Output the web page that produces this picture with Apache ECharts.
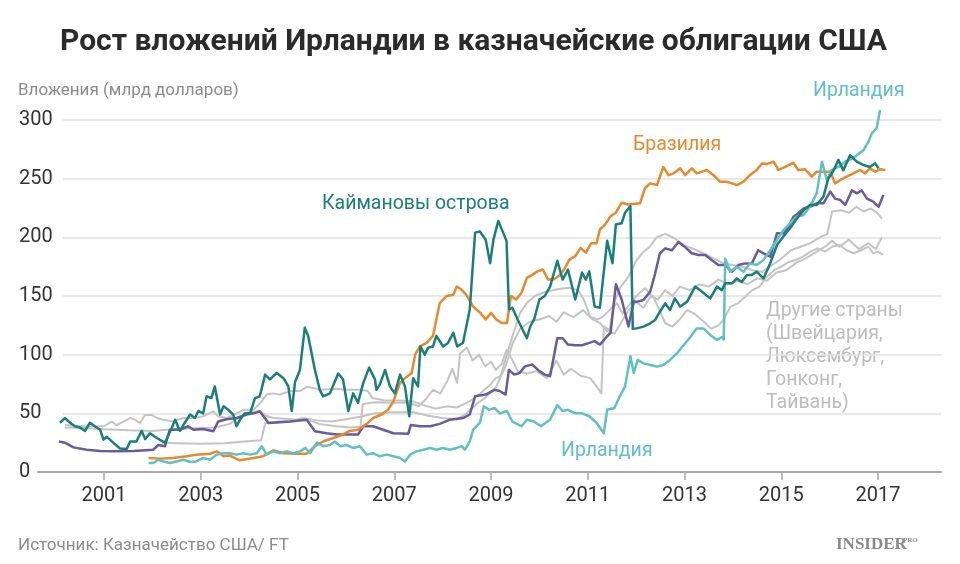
<!DOCTYPE html>
<html><head><meta charset="utf-8">
<script src="https://cdn.jsdelivr.net/npm/echarts@6/dist/echarts.min.js"></script>
<style>html,body{margin:0;padding:0;background:#fff}#c{width:960px;height:564px}</style>
</head><body><div id="c"></div>
<script>
const yTicks = [0, 50, 100, 150, 200, 250, 300];
const xTicks = [2001, 2003, 2005, 2007, 2009, 2011, 2013, 2015, 2017];

const cayman = [[2000.09,41.8],[2000.19,46],[2000.30,42],[2000.40,39],[2000.50,38],[2000.61,35],[2000.71,42],[2000.81,39],[2000.92,36],[2000.99,27.6],[2001.06,30],[2001.19,25],[2001.33,20],[2001.47,19.6],[2001.54,26],[2001.67,26],[2001.78,35],[2001.85,28],[2001.95,33],[2002.09,29],[2002.26,25],[2002.40,37.5],[2002.47,44.6],[2002.57,35],[2002.67,42],[2002.78,49],[2002.88,46],[2002.95,52],[2003.05,50],[2003.12,64.5],[2003.22,63],[2003.29,73],[2003.40,49],[2003.47,56],[2003.57,53],[2003.67,49],[2003.74,39],[2003.81,44.6],[2003.91,50],[2004.02,50],[2004.12,63],[2004.22,64.5],[2004.33,83],[2004.43,79],[2004.57,84.4],[2004.71,80],[2004.81,73],[2004.88,52],[2004.95,77],[2005.05,87],[2005.15,123],[2005.22,116],[2005.36,87],[2005.46,70],[2005.53,64.5],[2005.67,67],[2005.77,77],[2005.84,84],[2005.94,79],[2006.05,52],[2006.15,67],[2006.25,59],[2006.36,76],[2006.48,89],[2006.60,79],[2006.63,70],[2006.70,74.5],[2006.81,87],[2006.91,73],[2007.01,67],[2007.12,83],[2007.22,73],[2007.31,47.5],[2007.39,80],[2007.49,73],[2007.54,107],[2007.63,100],[2007.70,106],[2007.80,107],[2007.87,116],[2008.01,107],[2008.11,110],[2008.22,118.6],[2008.30,107],[2008.42,110],[2008.56,138.5],[2008.67,204],[2008.77,205],[2008.89,198],[2008.98,178],[2009.05,198],[2009.15,214],[2009.22,207],[2009.32,197],[2009.37,138.5],[2009.44,140],[2009.55,130],[2009.74,114],[2009.81,124],[2009.89,130],[2010.00,147],[2010.11,150],[2010.22,158],[2010.37,180],[2010.48,164],[2010.59,172.6],[2010.74,147],[2010.88,170],[2010.96,164],[2011.03,171],[2011.14,141],[2011.25,140],[2011.40,197],[2011.51,178],[2011.58,211],[2011.70,212],[2011.77,221],[2011.88,226.6],[2011.93,122],[2012.01,122.4],[2012.15,123.9],[2012.29,126.7],[2012.39,129.5],[2012.49,136.6],[2012.60,143.7],[2012.70,138],[2012.80,148],[2012.91,141],[2013.05,145],[2013.22,158],[2013.36,153.7],[2013.53,148],[2013.67,158],[2013.77,155],[2013.84,160.8],[2013.98,160.8],[2014.08,165],[2014.18,162],[2014.29,168],[2014.39,168],[2014.49,170.7],[2014.63,165],[2014.77,177.8],[2014.91,193.5],[2015.04,200.6],[2015.18,207.7],[2015.32,216],[2015.46,223],[2015.59,227.6],[2015.73,227.6],[2015.87,234.7],[2015.97,250],[2016.08,257],[2016.18,266],[2016.28,257],[2016.42,270],[2016.56,264.5],[2016.70,261.6],[2016.83,260],[2016.94,263],[2017.01,258.8]];

const brazil = [[2001.92,12],[2002.16,11.4],[2002.43,12],[2002.71,13.4],[2002.91,14.8],[2003.19,15.6],[2003.33,17.6],[2003.47,13.4],[2003.60,14],[2003.81,10],[2004.09,12],[2004.29,13.4],[2004.50,18.5],[2004.71,16],[2004.91,15.6],[2005.19,15.6],[2005.36,22],[2005.53,26],[2005.74,29],[2005.94,32],[2006.08,35],[2006.25,36],[2006.36,39],[2006.46,42],[2006.56,46],[2006.74,49],[2006.87,53],[2006.98,60],[2007.12,76],[2007.22,80],[2007.36,84.4],[2007.43,100],[2007.53,107],[2007.67,110],[2007.80,116],[2007.94,144],[2008.08,150],[2008.22,151],[2008.29,158],[2008.39,155.5],[2008.49,151],[2008.63,141],[2008.78,135.6],[2008.89,130],[2009.0,135.6],[2009.11,130],[2009.22,127],[2009.33,127],[2009.41,150],[2009.52,147],[2009.63,152.7],[2009.74,165.5],[2009.85,168],[2009.96,171],[2010.07,172.6],[2010.18,164],[2010.29,164],[2010.40,167],[2010.51,172.6],[2010.62,181],[2010.74,184],[2010.85,191],[2010.96,187],[2011.07,195],[2011.18,195],[2011.25,206.7],[2011.36,211],[2011.47,218],[2011.58,221],[2011.70,229.5],[2011.84,228],[2012.08,229],[2012.18,241.8],[2012.29,246],[2012.43,244.6],[2012.56,260],[2012.67,253],[2012.77,254.5],[2012.91,258.8],[2013.01,253],[2013.15,258.8],[2013.25,254.5],[2013.36,256],[2013.46,257.4],[2013.60,253],[2013.73,247.4],[2013.87,247.4],[2013.98,246],[2014.08,244.6],[2014.22,247.4],[2014.35,253],[2014.49,257.4],[2014.60,263],[2014.70,262.5],[2014.84,264.5],[2014.94,257.4],[2015.08,260],[2015.25,263.6],[2015.35,257.4],[2015.49,258],[2015.63,251.7],[2015.73,256],[2015.87,256],[2016.01,256],[2016.11,246],[2016.22,248.9],[2016.35,251.7],[2016.49,254.5],[2016.63,257.4],[2016.73,254.5],[2016.83,258.8],[2016.94,256],[2017.04,258],[2017.15,257.4]];

const ireland = [[2001.92,7.7],[2002.02,7.7],[2002.12,10.5],[2002.23,9],[2002.36,7.7],[2002.50,9],[2002.64,10.5],[2002.78,8.5],[2002.91,9],[2003.05,12],[2003.19,10.5],[2003.33,14.8],[2003.47,16],[2003.60,16],[2003.74,14.8],[2003.88,16],[2004.02,14.8],[2004.16,16],[2004.26,22],[2004.36,14.8],[2004.50,17.6],[2004.64,16],[2004.78,17.6],[2004.91,16],[2005.05,17.6],[2005.16,20.5],[2005.26,16],[2005.40,25],[2005.53,22],[2005.67,23],[2005.77,26],[2005.88,22],[2006.01,23],[2006.15,20.5],[2006.29,22],[2006.43,14.8],[2006.56,16],[2006.70,13.4],[2006.84,14.8],[2006.98,13.4],[2007.12,12],[2007.22,9],[2007.33,14.8],[2007.46,17.6],[2007.60,19],[2007.74,20.5],[2007.87,19],[2008.01,20.5],[2008.15,19],[2008.29,20.5],[2008.39,22],[2008.46,19],[2008.56,26],[2008.63,36],[2008.77,42],[2008.85,56],[2008.96,53],[2009.07,54.6],[2009.18,50],[2009.33,52],[2009.44,43],[2009.63,39],[2009.74,44.6],[2009.89,43],[2010.03,39],[2010.22,44.6],[2010.37,57],[2010.48,52],[2010.59,53],[2010.74,50],[2010.88,50],[2011.03,47.5],[2011.18,42],[2011.33,33],[2011.40,53],[2011.55,54.6],[2011.66,64.5],[2011.77,73],[2011.88,98.7],[2011.95,84.4],[2012.03,95.5],[2012.15,92.6],[2012.29,91.2],[2012.43,89.8],[2012.56,91.2],[2012.70,95.5],[2012.84,101],[2012.98,108],[2013.12,115],[2013.25,122.4],[2013.39,122.4],[2013.53,116.8],[2013.67,112.5],[2013.77,115],[2013.81,113],[2013.84,182],[2013.94,170.7],[2014.08,175],[2014.22,170.7],[2014.35,177.8],[2014.49,176.4],[2014.63,180.7],[2014.73,186.4],[2014.91,197.7],[2015.04,206],[2015.18,212],[2015.32,217.6],[2015.46,219],[2015.59,226],[2015.73,237.5],[2015.84,264.5],[2015.94,248.9],[2016.04,257.4],[2016.18,260],[2016.32,264.5],[2016.46,267],[2016.56,270],[2016.70,274.4],[2016.80,281.5],[2016.87,288.6],[2016.97,293],[2017.04,308.5]];

const purple = [[2000.07,26],[2000.19,25],[2000.37,21],[2000.64,19],[2000.92,18],[2001.19,17.6],[2001.61,18],[2002.02,19],[2002.12,23],[2002.26,22],[2002.36,36],[2002.57,36],[2002.74,39],[2002.85,36],[2003.05,36.7],[2003.26,34.7],[2003.36,43],[2003.53,45],[2003.74,46],[2003.95,49],[2004.09,50],[2004.22,51.7],[2004.40,41.8],[2004.64,42.4],[2004.84,43],[2005.19,44.6],[2005.36,34.7],[2005.60,33],[2005.81,32],[2006.01,32],[2006.25,32],[2006.36,39],[2006.56,39],[2006.77,36],[2006.98,33],[2007.29,32.7],[2007.34,40],[2007.53,39],[2007.74,39],[2007.94,41],[2008.15,44.6],[2008.42,46],[2008.56,49],[2008.67,64.5],[2008.89,66],[2009.07,70],[2009.18,69],[2009.30,66],[2009.37,87],[2009.48,83],[2009.59,84.4],[2009.70,90],[2009.85,91.6],[2010.0,86],[2010.11,83],[2010.22,81.6],[2010.37,114],[2010.48,114],[2010.59,108.6],[2010.74,108],[2010.88,108],[2011.03,110],[2011.14,111.5],[2011.25,108.6],[2011.40,115.7],[2011.47,118.6],[2011.58,160],[2011.70,147],[2011.84,124],[2011.95,145.6],[2012.01,145],[2012.15,146.6],[2012.29,153.7],[2012.39,169],[2012.49,186.4],[2012.60,190.6],[2012.74,189],[2012.87,196],[2013.01,191.7],[2013.15,186.4],[2013.29,185],[2013.43,185],[2013.56,180.7],[2013.70,176.4],[2013.84,176.4],[2013.98,170.7],[2014.11,176.4],[2014.25,177.8],[2014.39,177.8],[2014.52,189],[2014.63,186.4],[2014.77,183.5],[2014.91,203.4],[2015.04,203.4],[2015.15,209],[2015.25,217.6],[2015.35,220.5],[2015.46,224.7],[2015.59,226],[2015.73,229],[2015.87,229],[2016.01,239],[2016.11,233],[2016.22,231.8],[2016.32,227.6],[2016.46,240],[2016.56,237.5],[2016.66,240],[2016.77,233],[2016.90,230.4],[2017.01,226],[2017.11,236]];

const gray1 = [[2000.19,40],[2000.6,39],[2001.0,39],[2001.16,43],[2001.26,40],[2001.4,43],[2001.54,46],[2001.64,44.6],[2001.74,41.5],[2001.85,48.6],[2001.99,48.6],[2002.09,46],[2002.23,44.6],[2002.43,43],[2002.64,46],[2002.85,46],[2003.05,47.5],[2003.26,51.7],[2003.36,47.5],[2003.54,46],[2003.74,50],[2003.88,53],[2004.09,53],[2004.23,58.7],[2004.36,66],[2004.5,67],[2004.64,66],[2004.85,69],[2005.05,69],[2005.2,72.7],[2005.5,70],[2005.8,71],[2006.0,70],[2006.3,70],[2006.45,69],[2006.55,63],[2006.8,61],[2007.1,61],[2007.4,60],[2007.6,57],[2007.85,54],[2008.1,56],[2008.3,55],[2008.55,60],[2008.75,66],[2008.95,73],[2009.1,80],[2009.2,82],[2009.32,99],[2009.46,118],[2009.6,135.6],[2009.74,144],[2009.91,150],[2010.08,153],[2010.22,154.5],[2010.4,156],[2010.6,157],[2010.8,155],[2010.92,146.6],[2011.05,132.4],[2011.2,130],[2011.3,132],[2011.45,138],[2011.6,143.8],[2011.72,135],[2011.88,143.8],[2012.05,152],[2012.18,156.6],[2012.35,149.5],[2012.48,138],[2012.6,126.8],[2012.75,124],[2012.9,130],[2013.05,138],[2013.2,135],[2013.4,128],[2013.55,122],[2013.7,125],[2013.8,129.5],[2013.95,141],[2014.1,143.7],[2014.25,149.4],[2014.4,155],[2014.55,158],[2014.7,166.5],[2014.85,172],[2015.0,175],[2015.15,179],[2015.3,180.7],[2015.45,183.5],[2015.6,187.8],[2015.75,190.6],[2015.9,187.8],[2016.05,192],[2016.2,193.5],[2016.35,189],[2016.5,186.4],[2016.65,189],[2016.8,192],[2016.9,186.4],[2017.0,187.8],[2017.1,185]];

const gray2 = [[2000.19,38],[2000.6,37.5],[2001.0,36.5],[2001.5,35.5],[2002.0,35],[2002.3,36],[2002.7,37],[2003.0,37.5],[2003.3,38],[2003.6,41],[2003.8,47],[2004.0,50],[2004.2,52],[2004.35,48],[2004.5,46],[2004.9,45],[2005.2,44.6],[2005.45,41],[2005.8,39],[2006.1,38],[2006.3,38.5],[2006.35,58],[2006.6,59.5],[2007.0,59],[2007.3,59],[2007.5,56],[2007.65,62],[2007.8,70],[2007.95,67],[2008.1,78],[2008.2,88],[2008.3,76],[2008.36,101],[2008.5,106],[2008.62,95],[2008.75,100],[2008.88,90],[2009.0,94],[2009.1,87],[2009.22,92],[2009.32,104],[2009.42,97],[2009.55,86],[2009.75,84],[2009.95,86],[2010.15,80],[2010.35,95],[2010.5,83],[2010.65,88],[2010.85,82],[2011.05,80],[2011.2,72],[2011.28,67],[2011.33,124],[2011.45,121],[2011.55,145],[2011.68,158],[2011.85,167],[2012.0,180],[2012.12,186.4],[2012.28,192],[2012.42,200],[2012.6,203],[2012.8,199],[2013.0,193],[2013.2,190],[2013.4,186],[2013.6,182],[2013.8,178],[2014.0,176.4],[2014.2,175],[2014.4,172],[2014.6,170.7],[2014.8,176],[2015.0,182],[2015.2,189],[2015.4,192],[2015.6,195],[2015.8,200],[2015.95,203],[2016.05,222],[2016.25,223],[2016.4,221],[2016.55,226],[2016.7,222],[2016.85,224.7],[2017.0,220],[2017.08,216]];

const gray3 = [[2002.2,25],[2002.5,24.5],[2003.0,24],[2003.5,24.5],[2003.9,26],[2004.25,27],[2004.33,41.5],[2004.6,43],[2004.9,43],[2005.1,46],[2005.4,44],[2005.7,43],[2006.0,45],[2006.3,47],[2006.6,50],[2007.0,51],[2007.4,51],[2007.7,48],[2008.0,46],[2008.3,45],[2008.5,50],[2008.7,58],[2008.9,64],[2009.1,72],[2009.3,90],[2009.45,110],[2009.6,122],[2009.8,128],[2010.0,130],[2010.2,133],[2010.35,128],[2010.5,136],[2010.7,132],[2010.9,138],[2011.1,130],[2011.25,127],[2011.4,120],[2011.55,118],[2011.7,128],[2011.85,138],[2012.0,145],[2012.15,140],[2012.3,150],[2012.45,147],[2012.6,155],[2012.75,150],[2012.9,158],[2013.1,155],[2013.3,160],[2013.5,158],[2013.7,164],[2013.9,160],[2014.1,163],[2014.3,160],[2014.5,165],[2014.7,163],[2014.9,170],[2015.1,172],[2015.3,178],[2015.5,182],[2015.7,187],[2015.9,192],[2016.05,197],[2016.2,192],[2016.4,198],[2016.6,190],[2016.8,195],[2016.95,190],[2017.08,200]];

const COL = {cay:'#1a7f79', ire:'#60c0c4', bra:'#e8892b', pur:'#6a5b9c', gray:'#c4c4c4', text:'#333333', muted:'#8c8c8c'};
const FONT = 'Roboto, "Noto Sans", sans-serif';

function line(name, data, color, width, z) {
  return {name, type:'line', data, xAxisIndex:1, yAxisIndex:1, showSymbol:false, symbol:'none', clip:false,
    lineStyle:{color, width, join:'round'}, z, animation:false};
}

const chart = echarts.init(document.getElementById('c'), null, {renderer:'canvas'});
chart.setOption({
  backgroundColor:'#fff',
  animation:false,
  textStyle:{fontFamily:FONT},
  grid:[
    {left:63, right:19, top:120, bottom:92, containLabel:false},
    {left:38, right:19, top:120, bottom:92, containLabel:false}
  ],
  xAxis:[
    {gridIndex:0, type:'value', min:1999.636, max:2018.3, show:false},
    {gridIndex:1, type:'value', min:1999.636, max:2018.3,
     axisLine:{show:true, lineStyle:{color:'#a8a8a8', width:2}},
     axisTick:{show:true, customValues:xTicks, length:8, lineStyle:{color:'#a8a8a8', width:1.5}},
     axisLabel:{customValues:xTicks, formatter:v=>String(Math.round(v)), color:COL.text, fontSize:20, margin:14, fontFamily:FONT},
     splitLine:{show:false}}
  ],
  yAxis:[
    {gridIndex:0, type:'value', min:0, max:300, interval:50,
     axisLine:{show:false}, axisTick:{show:false},
     axisLabel:{color:COL.text, fontSize:20, align:'left', margin:44, fontFamily:FONT},
     splitLine:{show:true, lineStyle:{color:'#e2e2e2', width:1.5}}},
    {gridIndex:1, type:'value', min:0, max:300, interval:50, show:false, splitLine:{show:false}}
  ],
  series:[
    line('Другие 1', gray1, COL.gray, 2, 1),
    line('Другие 2', gray2, COL.gray, 2, 1),
    line('Другие 3', gray3, COL.gray, 2, 1),
    line('Другая', purple, COL.pur, 2.5, 2),
    line('Бразилия', brazil, COL.bra, 2.5, 3),
    line('Ирландия', ireland, COL.ire, 2.5, 4),
    line('Каймановы острова', cayman, COL.cay, 2.5, 5)
  ],
  graphic:[
    {type:'text', left:60, top:27, style:{text:'Рост вложений Ирландии в казначейские облигации США', font:'bold 30px '+FONT, fill:'#2b2b2b'}},
    {type:'text', left:18, top:82, style:{text:'Вложения (млрд долларов)', font:'17px '+FONT, fill:COL.muted}},
    {type:'text', left:813, top:81, style:{text:'Ирландия', font:'19.5px '+FONT, fill:COL.ire}},
    {type:'text', left:633, top:135, style:{text:'Бразилия', font:'19.5px '+FONT, fill:COL.bra}},
    {type:'text', left:322, top:194, style:{text:'Каймановы острова', font:'19.5px '+FONT, fill:COL.cay}},
    {type:'text', left:766, top:300, style:{text:'Другие страны\n(Швейцария,\nЛюксембург,\nГонконг,\nТайвань)', font:'19.5px '+FONT, fill:'#bdbdbd', lineHeight:23}},
    {type:'text', left:561, top:441, style:{text:'Ирландия', font:'19.5px '+FONT, fill:COL.ire}},
    {type:'text', left:18, top:537, style:{text:'Источник: Казначейство США/ FT', font:'17px '+FONT, fill:COL.muted}},
    {type:'text', left:836, top:536, style:{text:'INSIDER', font:'bold 17px "Liberation Serif", "DejaVu Serif", serif', fill:'#8a8a8a'}},
    {type:'text', left:903, top:537, style:{text:'PRO', font:'bold 7px "Liberation Serif", serif', fill:'#8a8a8a'}}
  ]
});
</script></body></html>
